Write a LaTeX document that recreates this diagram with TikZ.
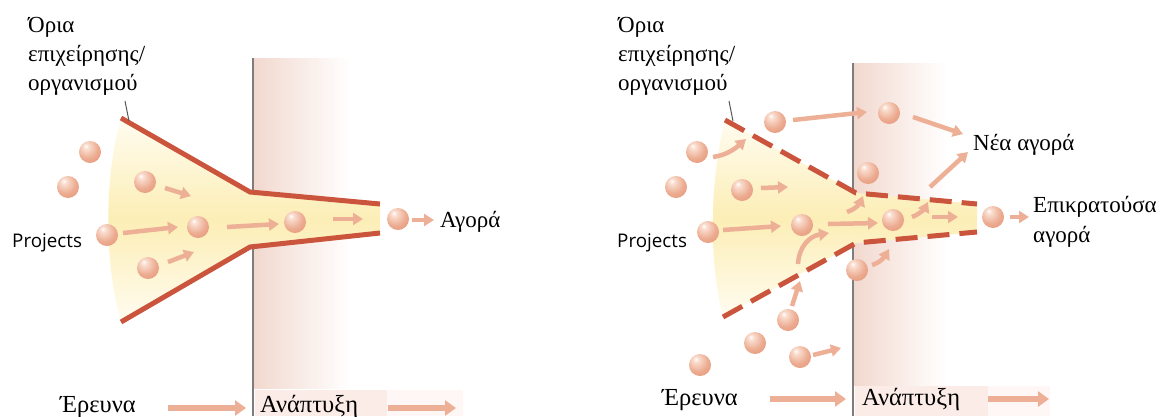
\documentclass[tikz,border=0pt]{standalone}
\usepackage{fontspec}
\setmainfont{Liberation Serif}
\newfontfamily\sansf{Open Sans}
\usetikzlibrary{arrows.meta}

\definecolor{sal}{RGB}{226,140,110}
\definecolor{saldark}{RGB}{198,102,74}
\definecolor{salhi}{RGB}{250,222,208}
\definecolor{salmid}{RGB}{236,172,145}
\definecolor{flowc}{RGB}{237,176,150}
\definecolor{bound}{RGB}{203,84,60}
\definecolor{bandc}{RGB}{242,216,206}
\definecolor{boxc}{RGB}{252,236,232}
\definecolor{boxc2}{RGB}{254,247,245}
\definecolor{fanmid}{RGB}{252,238,182}
\definecolor{fanedge}{RGB}{255,252,240}
\definecolor{leadc}{RGB}{90,90,90}
\definecolor{linec}{RGB}{125,125,125}

\pgfdeclareradialshading{sph}{\pgfpoint{-10bp}{14bp}}{color(0bp)=(white); color(6bp)=(salhi); color(24bp)=(salmid); color(46bp)=(sal); color(70bp)=(saldark)}

\tikzset{
  ball/.style={circle, inner sep=0pt, minimum size=22pt, shade, shading=sph},
  flow/.style={draw=flowc, line width=4.5pt, -{Triangle[length=10pt,width=12pt]}},
  bflow/.style={draw=flowc, line width=6pt, -{Triangle[length=11pt,width=15pt]}},
  bnd/.style={draw=bound, line width=5pt},
  bndd/.style={bnd, dash pattern=on 22pt off 10pt},
  gline/.style={draw=linec, line width=1.5pt},
  lead/.style={draw=leadc, line width=1pt},
  txt/.style={inner sep=0pt, anchor=base west, font=\fontsize{23}{27}\selectfont},
  btxt/.style={inner sep=0pt, anchor=base west, font=\fontsize{24.5}{28}\selectfont},
  ptxt/.style={inner sep=0pt, anchor=base west, font=\sansf\fontsize{18.8}{22}\selectfont}
}

\begin{document}
\begin{tikzpicture}[x=1pt,y=-1pt]
\useasboundingbox (0,0) rectangle (1162,416);

% ================= LEFT PANEL =================
\shade[left color=bandc, right color=white] (253,58) rectangle (350,388);
\fill[boxc] (255,390) rectangle (387,416);
\fill[boxc2] (387,390) rectangle (463,416);
\coordinate (Lg1) at (253,58);
\coordinate (Lg2) at (253,416);
\draw[gline] (Lg1) -- (Lg2);

\coordinate (LT0) at (121,118);
\coordinate (LT1) at (250,192);
\coordinate (LT2) at (380,204);
\coordinate (LB0) at (121,322);
\coordinate (LB1) at (250,247);
\coordinate (LB2) at (380,233);
\shade[top color=fanedge, bottom color=fanedge, middle color=fanmid]
  (LT0) -- (LT1) -- (LT2) -- (LB2) -- (LB1) -- (LB0) .. controls (104,262) and (104,178) .. cycle;
\draw[bnd] (LT0) -- (LT1) -- (LT2);
\draw[bnd] (LB0) -- (LB1) -- (LB2);

\node[txt] (Llim1) at (28,32) {Όρια};
\node[txt] (Llim2) at (28,61) {επιχείρησης/};
\node[txt] (Llim3) at (28,90) {οργανισμού};
\coordinate (Lld1) at (125,101);
\coordinate (Lld2) at (129,121);
\draw[lead] (Lld1) -- (Lld2);

\node[ball] (L1) at (90,152) {};
\node[ball] (L2) at (68,187) {};
\node[ball] (L3) at (145,182) {};
\node[ball] (L4) at (107,235) {};
\node[ball] (L5) at (198,227) {};
\node[ball] (L6) at (148,268) {};
\node[ball] (L7) at (295,222) {};
\node[ball] (L8) at (398,219) {};

\coordinate (la1) at (165,188); \coordinate (la1e) at (191,196);
\coordinate (la2) at (123,233); \coordinate (la2e) at (178,227);
\coordinate (la3) at (168,262); \coordinate (la3e) at (194,252);
\coordinate (la4) at (227,227); \coordinate (la4e) at (279,224);
\coordinate (la5) at (333,219); \coordinate (la5e) at (363,219);
\coordinate (la6) at (412,220); \coordinate (la6e) at (434,220);
\draw[flow] (la1) -- (la1e);
\draw[flow] (la2) -- (la2e);
\draw[flow] (la3) -- (la3e);
\draw[flow] (la4) -- (la4e);
\draw[flow] (la5) -- (la5e);
\draw[flow] (la6) -- (la6e);

\node[ptxt] (Lproj) at (12,247) {Projects};
\node[txt] (Lmarket) at (440,227) {Αγορά};
\node[btxt] (Lres) at (60,412) {Έρευνα};
\node[btxt] (Ldev) at (260,412) {Ανάπτυξη};
\coordinate (lb1) at (168,408); \coordinate (lb1e) at (246,408);
\coordinate (lb2) at (388,408); \coordinate (lb2e) at (456,408);
\draw[bflow] (lb1) -- (lb1e);
\draw[bflow] (lb2) -- (lb2e);

% ================= RIGHT PANEL =================
\shade[left color=bandc, right color=white] (853,63) rectangle (947,385);
\fill[boxc] (855,386) rectangle (988,416);
\fill[boxc2] (988,386) rectangle (1050,416);
\coordinate (Rg1) at (853,63);
\coordinate (Rg2) at (853,416);
\draw[gline] (Rg1) -- (Rg2);

\coordinate (RT0) at (725,120);
\coordinate (RT1) at (856,193);
\coordinate (RT2) at (977,204);
\coordinate (RB0) at (723,317);
\coordinate (RB1) at (856,243);
\coordinate (RB2) at (977,232);
\shade[top color=fanedge, bottom color=fanedge, middle color=fanmid]
  (RT0) -- (RT1) -- (RT2) -- (RB2) -- (RB1) -- (RB0) .. controls (708,258) and (710,180) .. cycle;
\draw[bndd] (RT0) -- (RT1) -- (RT2);
\draw[bndd] (RB0) -- (RB1) -- (RB2);

\node[txt] (Rlim1) at (618,32) {Όρια};
\node[txt] (Rlim2) at (618,61) {επιχείρησης/};
\node[txt] (Rlim3) at (618,90) {οργανισμού};
\coordinate (Rld1) at (729,101);
\coordinate (Rld2) at (733,121);
\draw[lead] (Rld1) -- (Rld2);

\node[ball] (R1) at (697,152) {};
\node[ball] (R2) at (676,187) {};
\node[ball] (R3) at (775,122) {};
\node[ball] (R4) at (889,113) {};
\node[ball] (R5) at (868,173) {};
\node[ball] (R6) at (742,190) {};
\node[ball] (R7) at (708,232) {};
\node[ball] (R8) at (802,225) {};
\node[ball] (R9) at (893,220) {};
\node[ball] (R10) at (993,217) {};
\node[ball] (R11) at (857,270) {};
\node[ball] (R12) at (788,320) {};
\node[ball] (R13) at (755,343) {};
\node[ball] (R14) at (700,365) {};
\node[ball] (R15) at (800,357) {};

\coordinate (ra1) at (713,157); \coordinate (ra1e) at (746,139);
\coordinate (ra2) at (793,120); \coordinate (ra2e) at (867,112);
\coordinate (ra3) at (913,117); \coordinate (ra3e) at (963,134);
\coordinate (ra4) at (930,187); \coordinate (ra4e) at (968,152);
\coordinate (ra5) at (761,188); \coordinate (ra5e) at (788,187);
\coordinate (ra6) at (723,230); \coordinate (ra6e) at (781,226);
\coordinate (ra7) at (828,224); \coordinate (ra7e) at (878,223);
\coordinate (ra8) at (847,212); \coordinate (ra8e) at (863,196);
\coordinate (ra9) at (912,217); \coordinate (ra9e) at (928,202);
\coordinate (ra10) at (932,217); \coordinate (ra10e) at (958,217);
\coordinate (ra11) at (1010,217); \coordinate (ra11e) at (1029,217);
\coordinate (ra12) at (872,265); \coordinate (ra12e) at (889,249);
\coordinate (ra13) at (798,264); \coordinate (ra13e) at (829,233);
\coordinate (ra14) at (792,306); \coordinate (ra14e) at (800,281);
\coordinate (ra15) at (813,355); \coordinate (ra15e) at (841,348);
\draw[flow] (ra1) .. controls (728,155) and (737,147) .. (ra1e);
\draw[flow] (ra2) -- (ra2e);
\draw[flow] (ra3) -- (ra3e);
\draw[flow] (ra4) -- (ra4e);
\draw[flow] (ra5) -- (ra5e);
\draw[flow] (ra6) -- (ra6e);
\draw[flow] (ra7) -- (ra7e);
\draw[flow] (ra8) .. controls (856,209) and (860,203) .. (ra8e);
\draw[flow] (ra9) .. controls (920,214) and (925,208) .. (ra9e);
\draw[flow] (ra10) -- (ra10e);
\draw[flow] (ra11) -- (ra11e);
\draw[flow] (ra12) .. controls (880,263) and (885,256) .. (ra12e);
\draw[flow] (ra13) .. controls (799,246) and (810,236) .. (ra13e);
\draw[flow] (ra14) -- (ra14e);
\draw[flow] (ra15) -- (ra15e);

\node[ptxt] (Rproj) at (617,247) {Projects};
\node[txt] (Rnew) at (973,150) {Νέα αγορά};
\node[txt] (Rdom1) at (1033,212) {Επικρατούσα};
\node[txt] (Rdom2) at (1033,242) {αγορά};
\node[btxt] (Rres) at (662,405) {Έρευνα};
\node[btxt] (Rdev) at (862,405) {Ανάπτυξη};
\coordinate (rb1) at (770,399); \coordinate (rb1e) at (846,399);
\coordinate (rb2) at (988,399); \coordinate (rb2e) at (1049,399);
\draw[bflow] (rb1) -- (rb1e);
\draw[bflow] (rb2) -- (rb2e);
\end{tikzpicture}
\end{document}
